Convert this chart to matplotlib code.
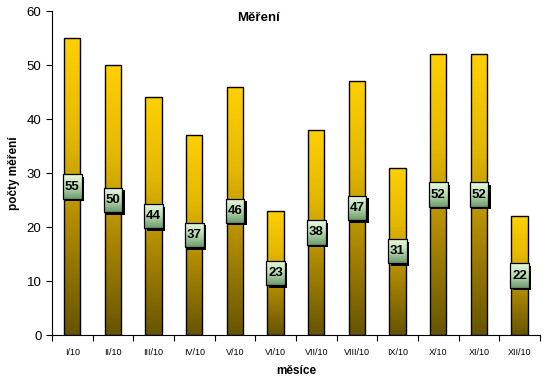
import numpy as np
import matplotlib
matplotlib.use("Agg")
import matplotlib.pyplot as plt
from matplotlib.colors import LinearSegmentedColormap
from matplotlib.patches import Rectangle

months = ["I/10", "II/10", "III/10", "IV/10", "V/10", "VI/10",
          "VII/10", "VIII/10", "IX/10", "X/10", "XI/10", "XII/10"]
counts = [55, 50, 44, 37, 46, 23, 38, 47, 31, 52, 52, 22]

plt.rcParams['font.family'] = ['Liberation Sans', 'DejaVu Sans']

fig = plt.figure(figsize=(5.47, 3.86), dpi=100)
ax = fig.add_axes([0.095, 0.132, 0.892, 0.8395])

bar_cmap = LinearSegmentedColormap.from_list("bar", ["#665400", "#a88400", "#e4b800", "#ffd000"])
box_cmap = LinearSegmentedColormap.from_list("box", ["#6e9a6e", "#b8dab0", "#eafce4"])
grad = np.linspace(0, 1, 256).reshape(-1, 1)

x = np.arange(len(months))
bw = 0.4
bars = ax.bar(x, counts, width=bw, facecolor="none", edgecolor="black", linewidth=1.0, zorder=3)
for b, v in zip(bars, counts):
    x0 = b.get_x()
    im = ax.imshow(grad, cmap=bar_cmap, origin="lower", aspect="auto",
                   extent=(x0, x0 + bw, 0, v), zorder=2, interpolation="bilinear")
    im.set_clip_path(b)

    # value label box with shadow
    bxw, bxh = 0.46, 4.5
    cx, cy = b.get_x() + bw / 2, v / 2
    ax.add_patch(Rectangle((cx - bxw / 2 + 0.06, cy - bxh / 2 - 0.45), bxw, bxh,
                           facecolor="black", edgecolor="none", zorder=4))
    rect = Rectangle((cx - bxw / 2, cy - bxh / 2), bxw, bxh,
                     facecolor="none", edgecolor="black", linewidth=0.9, zorder=6)
    ax.add_patch(rect)
    im2 = ax.imshow(grad, cmap=box_cmap, origin="lower", aspect="auto",
                    extent=(cx - bxw / 2, cx + bxw / 2, cy - bxh / 2, cy + bxh / 2),
                    zorder=5, interpolation="bilinear")
    im2.set_clip_path(rect)
    ax.text(cx, cy, str(v), ha="center", va="center", fontsize=9.5,
            fontweight="bold", fontstretch="condensed", color="black", zorder=7,
            family=["Liberation Sans Narrow", "Liberation Sans"])

ax.set_xlim(-0.5, len(months) - 0.5)
ax.set_ylim(0, 60)
ax.set_yticks(range(0, 61, 10))
ax.set_xticks(x)
ax.set_xticklabels(months, fontsize=6.5)
ax.set_xticks(np.arange(-0.5, len(months), 1), minor=True)
ax.tick_params(axis="x", which="major", length=0, pad=9)
ax.tick_params(axis="x", which="minor", length=4, direction="out", width=0.8)
ax.tick_params(axis="y", labelsize=9.5, length=4, direction="out", width=0.8)
for s in ["top", "right"]:
    ax.spines[s].set_visible(False)
ax.spines["left"].set_linewidth(0.8)
ax.spines["bottom"].set_linewidth(0.8)

fig.text(258 / 547, 1 - 18 / 386, "Měření", fontsize=9.5, fontweight="bold",
         ha="center", va="center")
ax.set_ylabel("počty měření", fontsize=8.5, fontweight="bold", labelpad=5)
ax.set_xlabel("měsíce", fontsize=8.5, fontweight="bold", labelpad=6)

fig.savefig("out.png", dpi=100)
